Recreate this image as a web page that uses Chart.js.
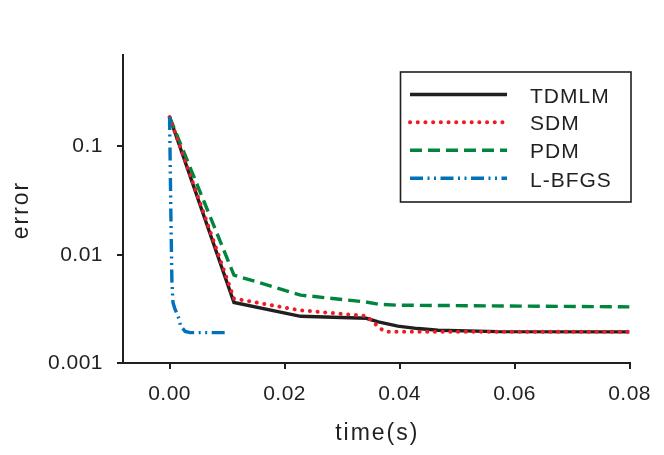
<!DOCTYPE html>
<html>
<head>
<meta charset="utf-8">
<script src="https://cdn.jsdelivr.net/npm/chart.js@4.4.0/dist/chart.umd.min.js"></script>
<style>
  html, body { margin: 0; padding: 0; background: #fff; }
  canvas { display: block; }
</style>
</head>
<body>
<canvas id="errorChart" width="664" height="455"></canvas>
<script>
// values
var seriesNames = ["TDMLM", "SDM", "PDM", "L-BFGS"];

var tdmlmTime  = [0, 0.0112, 0.0228, 0.0342, 0.0363, 0.0397, 0.0432, 0.0467, 0.057, 0.08];
var tdmlmError = [0.187, 0.00362, 0.0027, 0.00259, 0.0024, 0.00219, 0.00208, 0.00201, 0.00195, 0.00194];

var sdmTime  = [0, 0.0112, 0.0225, 0.0342, 0.0354, 0.0366, 0.0378, 0.08];
var sdmError = [0.187, 0.00394, 0.00308, 0.00272, 0.0024, 0.00208, 0.00194, 0.00194];

var pdmTime  = [0, 0.0112, 0.0228, 0.034, 0.0363, 0.0397, 0.08];
var pdmError = [0.187, 0.00649, 0.00424, 0.00367, 0.00349, 0.00342, 0.0033];

var lbfgsTime  = [0, 0.0002, 0.0004, 0.0006, 0.0009, 0.0017, 0.0019, 0.0027, 0.0036, 0.0102];
var lbfgsError = [0.187, 0.03, 0.0058, 0.0036, 0.0032, 0.0025, 0.0022, 0.00196, 0.00191, 0.00191];

var xTicks = [0, 0.02, 0.04, 0.06, 0.08];
var xTickLabels = ["0.00", "0.02", "0.04", "0.06", "0.08"];
var yTicks = [0.001, 0.01, 0.1];
var yTickLabels = ["0.001", "0.01", "0.1"];

var ink = '#231f20';
var fontFamily = '"Liberation Sans", Arial, Helvetica, sans-serif';

function points(xs, ys) {
    return xs.map(function(x, i) { return {x: x, y: ys[i]}; });
}

// Chart.js has no per-text letter spacing, so set it on the context
var spacingPlugin = {
    id: 'spacing',
    beforeLayout: function(chart) { chart.ctx.letterSpacing = '0.5px'; },
    beforeDraw: function(chart) { chart.ctx.letterSpacing = '0.5px'; }
};

// axis titles and the boxed legend with line samples
var boxLegendPlugin = {
    id: 'boxLegend',
    afterDraw: function(chart) {
        var ctx = chart.ctx, area = chart.chartArea;

        ctx.save();
        ctx.fillStyle = ink;
        ctx.font = '23px ' + fontFamily;
        ctx.letterSpacing = '2px';
        ctx.textAlign = 'center';
        ctx.textBaseline = 'middle';
        ctx.fillText('time(s)', (area.left + area.right) / 2 + 1, 434);
        ctx.translate(22, (area.top + area.bottom) / 2 + 1);
        ctx.rotate(-Math.PI / 2);
        ctx.fillText('error', 0, 0);
        ctx.restore();

        ctx.save();
        ctx.strokeStyle = ink;
        ctx.lineWidth = 1.6;
        ctx.strokeRect(400.5, 72, 230.5, 130);

        var lineY = [94.5, 122.3, 150.2, 178.3];
        var textY = [103.3, 130, 158.3, 186.7];
        chart.data.datasets.forEach(function(ds, i) {
            ctx.save();
            ctx.strokeStyle = ds.borderColor;
            ctx.lineWidth = ds.borderWidth;
            ctx.lineCap = ds.borderCapStyle || 'butt';
            ctx.setLineDash(ds.borderDash || []);
            ctx.beginPath();
            ctx.moveTo(410, lineY[i]);
            ctx.lineTo(507, lineY[i]);
            ctx.stroke();
            ctx.restore();

            ctx.fillStyle = ink;
            ctx.font = '21px ' + fontFamily;
            ctx.letterSpacing = '1px';
            ctx.textAlign = 'left';
            ctx.textBaseline = 'alphabetic';
            ctx.fillText(ds.label, 530, textY[i]);
        });
        ctx.restore();
    }
};

var ctx = document.getElementById('errorChart').getContext('2d');
new Chart(ctx, {
    type: 'line',
    data: {
        datasets: [
            {
                label: seriesNames[0],
                data: points(tdmlmTime, tdmlmError),
                borderColor: ink,
                borderWidth: 3.4,
                order: 3
            },
            {
                label: seriesNames[1],
                data: points(sdmTime, sdmError),
                borderColor: '#ed1c24',
                borderWidth: 4,
                borderDash: [0.1, 7.6],
                borderCapStyle: 'round',
                order: 1
            },
            {
                label: seriesNames[2],
                data: points(pdmTime, pdmError),
                borderColor: '#00853f',
                borderWidth: 3.4,
                borderDash: [12, 6],
                order: 2
            },
            {
                label: seriesNames[3],
                data: points(lbfgsTime, lbfgsError),
                borderColor: '#0072bc',
                borderWidth: 3.4,
                borderDash: [13, 4.5, 2, 4.5, 2, 4.5],
                order: 0
            }
        ]
    },
    options: {
        responsive: false,
        animation: false,
        elements: {
            point: { radius: 0 },
            line: { tension: 0, fill: false }
        },
        layout: { padding: { left: 0, right: 31, top: 55, bottom: 0 } },
        plugins: {
            legend: { display: false },
            tooltip: { enabled: false }
        },
        scales: {
            x: {
                type: 'linear',
                min: -0.0081,
                max: 0.08,
                afterBuildTicks: function(scale) {
                    scale.ticks = xTicks.map(function(v) { return {value: v}; });
                },
                afterFit: function(scale) { scale.height = 92; },
                ticks: {
                    callback: function(value, index) { return xTickLabels[index]; },
                    font: { size: 21, family: fontFamily },
                    color: ink,
                    padding: 13,
                    maxRotation: 0,
                    autoSkip: false
                },
                grid: {
                    drawOnChartArea: false,
                    drawTicks: true,
                    tickLength: 6,
                    color: ink,
                    lineWidth: 2
                },
                border: { display: true, color: ink, width: 2 }
            },
            y: {
                type: 'logarithmic',
                min: 0.001,
                max: 0.7,
                afterBuildTicks: function(scale) {
                    scale.ticks = yTicks.map(function(v) { return {value: v}; });
                },
                afterFit: function(scale) { scale.width = 123; },
                ticks: {
                    callback: function(value, index) { return yTickLabels[index]; },
                    font: { size: 21, family: fontFamily },
                    color: ink,
                    padding: 14,
                    autoSkip: false
                },
                grid: {
                    drawOnChartArea: false,
                    drawTicks: true,
                    tickLength: 6,
                    color: ink,
                    lineWidth: 2
                },
                border: { display: true, color: ink, width: 2 }
            }
        }
    },
    plugins: [spacingPlugin, boxLegendPlugin]
});
</script>
</body>
</html>
